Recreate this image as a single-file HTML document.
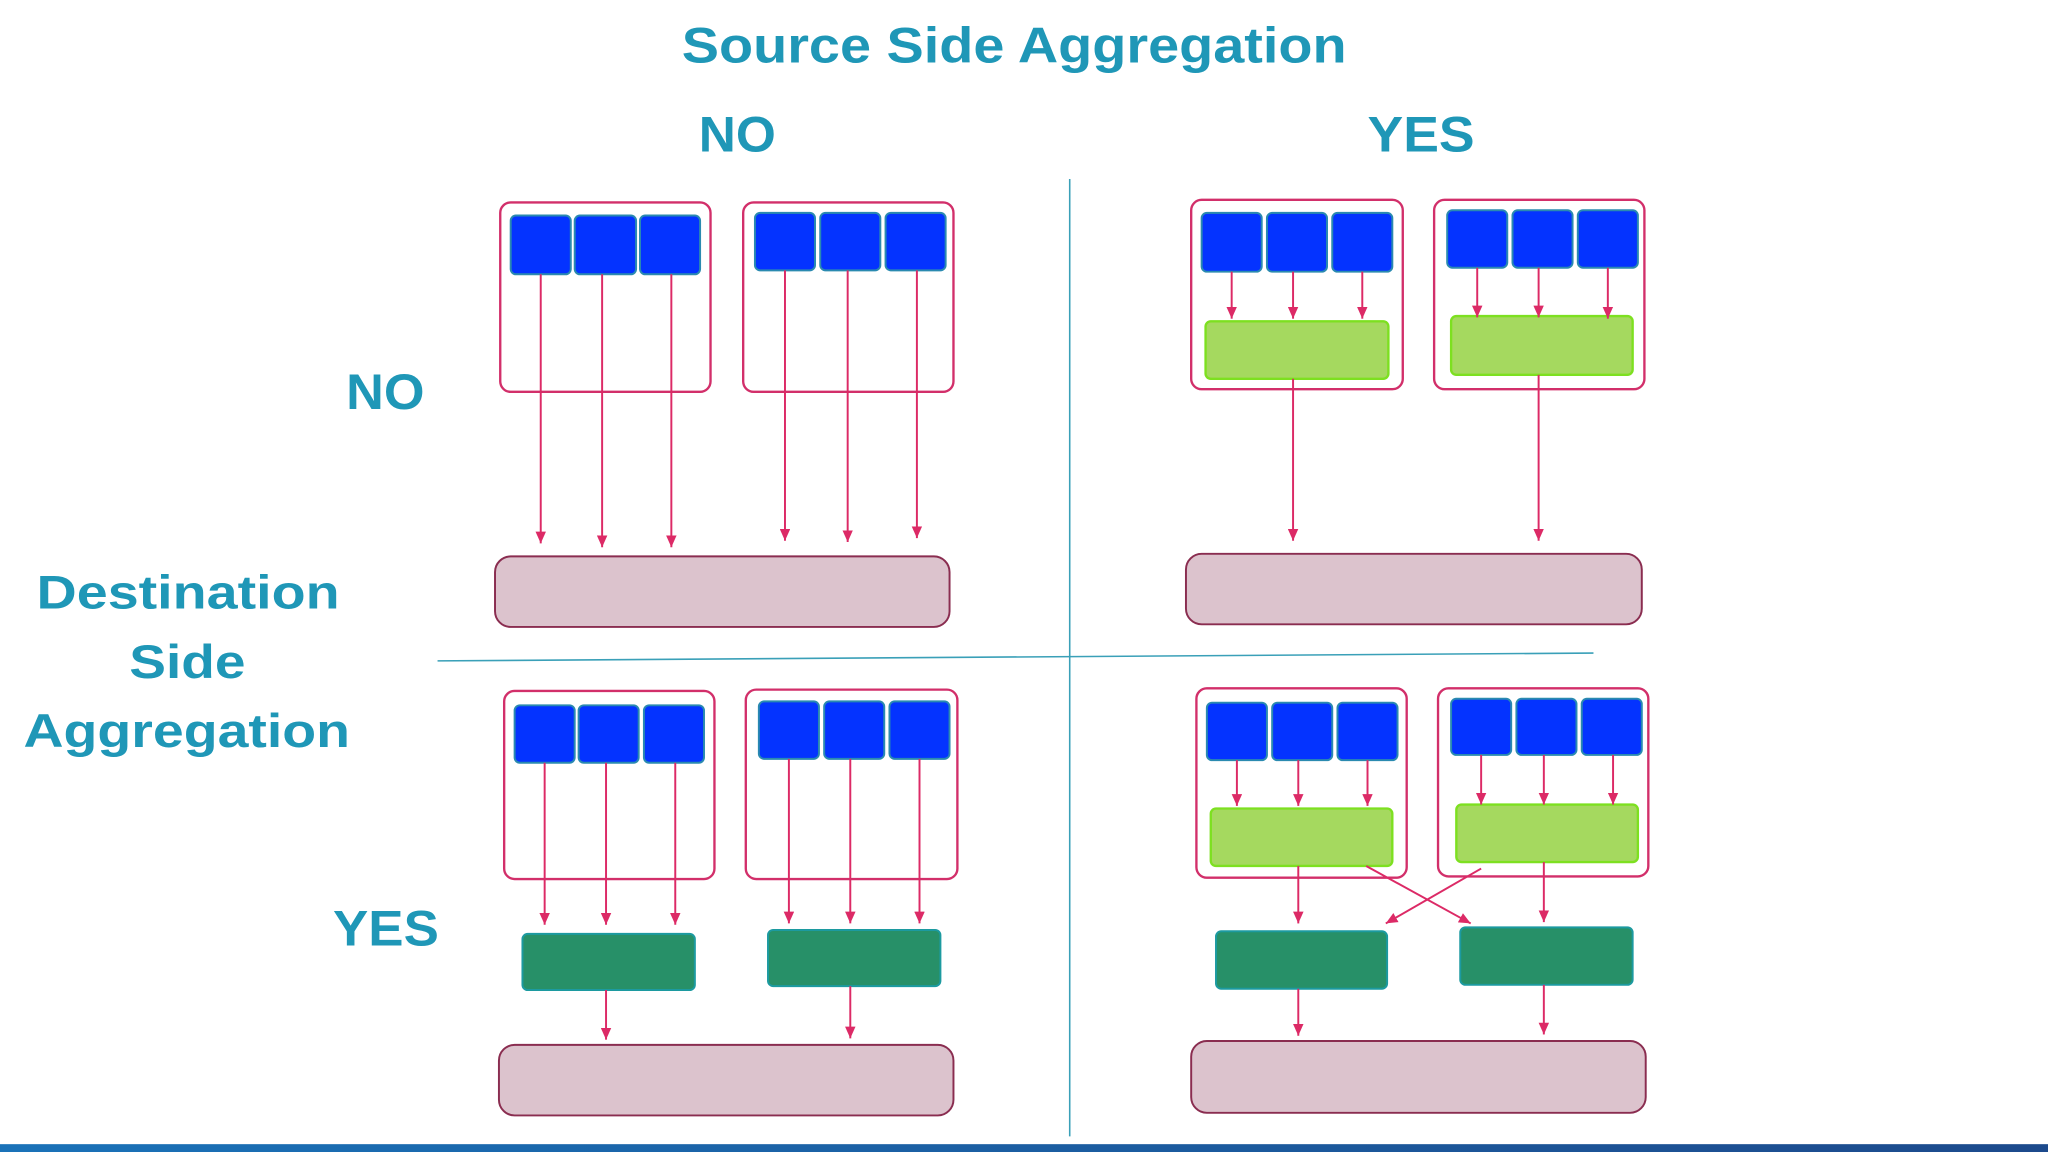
<!DOCTYPE html>
<html><head><meta charset="utf-8"><style>html,body{margin:0;padding:0;background:#fff}svg{display:block}</style></head>
<body>
<svg width="2048" height="1152" viewBox="0 0 1568 882" xmlns="http://www.w3.org/2000/svg" font-family="Liberation Sans, sans-serif" font-weight="bold">
<defs>
<marker id="a" markerWidth="9" markerHeight="8" refX="9" refY="4" orient="auto" markerUnits="userSpaceOnUse"><path d="M0,0 L9,4 L0,8 Z" fill="#dc2a66"/></marker>
<linearGradient id="g" x1="0" x2="1"><stop offset="0" stop-color="#1a72b8"/><stop offset="1" stop-color="#1c4a8c"/></linearGradient>
</defs>
<rect width="1568" height="882" fill="#fff"/>
<g fill="#1f97b7">
<text x="522" y="48" font-size="38" textLength="509" lengthAdjust="spacingAndGlyphs">Source Side Aggregation</text>
<text x="535" y="116" font-size="38" textLength="59" lengthAdjust="spacingAndGlyphs">NO</text>
<text x="1047" y="116" font-size="38" textLength="82" lengthAdjust="spacingAndGlyphs">YES</text>
<text x="265" y="313" font-size="38" textLength="60" lengthAdjust="spacingAndGlyphs">NO</text>
<text x="255" y="724" font-size="38" textLength="81" lengthAdjust="spacingAndGlyphs">YES</text>
<text x="28" y="466" font-size="36" textLength="232" lengthAdjust="spacingAndGlyphs">Destination</text>
<text x="99" y="519" font-size="36" textLength="89" lengthAdjust="spacingAndGlyphs">Side</text>
<text x="18" y="572" font-size="36" textLength="250" lengthAdjust="spacingAndGlyphs">Aggregation</text>
</g>
<line x1="819" y1="137" x2="819" y2="870" stroke="#3aa0b8" stroke-width="1.2"/>
<line x1="335" y1="506" x2="1220" y2="500" stroke="#3aa0b8" stroke-width="1.2"/>
<rect x="0" y="876" width="1568" height="6" fill="url(#g)"/>

<g fill="none" stroke="#d22f6a" stroke-width="1.8">
<rect x="383" y="155" width="161" height="145" rx="8"/>
<rect x="569" y="155" width="161" height="145" rx="8"/>
<rect x="912" y="153" width="162" height="145" rx="8"/>
<rect x="1098" y="153" width="161" height="145" rx="8"/>
<rect x="386" y="529" width="161" height="144" rx="8"/>
<rect x="571" y="528" width="162" height="145" rx="8"/>
<rect x="916" y="527" width="161" height="145" rx="8"/>
<rect x="1101" y="527" width="161" height="144" rx="8"/>
</g>

<g fill="#0433ff" stroke="#2a8ab0" stroke-width="1.5">
<rect x="391" y="165" width="46" height="45" rx="4"/><rect x="440" y="165" width="47" height="45" rx="4"/><rect x="490" y="165" width="46" height="45" rx="4"/>
<rect x="578" y="163" width="46" height="44" rx="4"/><rect x="628" y="163" width="46" height="44" rx="4"/><rect x="678" y="163" width="46" height="44" rx="4"/>
<rect x="920" y="163" width="46" height="45" rx="4"/><rect x="970" y="163" width="46" height="45" rx="4"/><rect x="1020" y="163" width="46" height="45" rx="4"/>
<rect x="1108" y="161" width="46" height="44" rx="4"/><rect x="1158" y="161" width="46" height="44" rx="4"/><rect x="1208" y="161" width="46" height="44" rx="4"/>
<rect x="394" y="540" width="46" height="44" rx="4"/><rect x="443" y="540" width="46" height="44" rx="4"/><rect x="493" y="540" width="46" height="44" rx="4"/>
<rect x="581" y="537" width="46" height="44" rx="4"/><rect x="631" y="537" width="46" height="44" rx="4"/><rect x="681" y="537" width="46" height="44" rx="4"/>
<rect x="924" y="538" width="46" height="44" rx="4"/><rect x="974" y="538" width="46" height="44" rx="4"/><rect x="1024" y="538" width="46" height="44" rx="4"/>
<rect x="1111" y="535" width="46" height="43" rx="4"/><rect x="1161" y="535" width="46" height="43" rx="4"/><rect x="1211" y="535" width="46" height="43" rx="4"/>
</g>

<g fill="#a5d95f" stroke="#7de020" stroke-width="1.8">
<rect x="923" y="246" width="140" height="44" rx="4"/>
<rect x="1111" y="242" width="139" height="45" rx="4"/>
<rect x="927" y="619" width="139" height="44" rx="4"/>
<rect x="1115" y="616" width="139" height="44" rx="4"/>
</g>

<g fill="#279068" stroke="#1c9aa0" stroke-width="1.5">
<rect x="400" y="715" width="132" height="43" rx="4"/>
<rect x="588" y="712" width="132" height="43" rx="4"/>
<rect x="931" y="713" width="131" height="44" rx="4"/>
<rect x="1118" y="710" width="132" height="44" rx="4"/>
</g>

<g fill="#dcc3cd" stroke="#8a2d50" stroke-width="1.5">
<rect x="379" y="426" width="348" height="54" rx="12"/>
<rect x="908" y="424" width="349" height="54" rx="12"/>
<rect x="382" y="800" width="348" height="54" rx="12"/>
<rect x="912" y="797" width="348" height="55" rx="12"/>
</g>

<g stroke="#dc2a66" stroke-width="1.5" marker-end="url(#a)">
<line x1="414" y1="210" x2="414" y2="416"/><line x1="461" y1="210" x2="461" y2="419"/><line x1="514" y1="210" x2="514" y2="419"/>
<line x1="601" y1="207" x2="601" y2="414"/><line x1="649" y1="207" x2="649" y2="415"/><line x1="702" y1="207" x2="702" y2="412"/>
<line x1="943" y1="208" x2="943" y2="244"/><line x1="990" y1="208" x2="990" y2="244"/><line x1="1043" y1="208" x2="1043" y2="244"/>
<line x1="1131" y1="205" x2="1131" y2="243"/><line x1="1178" y1="205" x2="1178" y2="243"/><line x1="1231" y1="205" x2="1231" y2="244"/>
<line x1="990" y1="290" x2="990" y2="414"/><line x1="1178" y1="287" x2="1178" y2="414"/>
<line x1="417" y1="584" x2="417" y2="708"/><line x1="464" y1="584" x2="464" y2="708"/><line x1="517" y1="584" x2="517" y2="708"/>
<line x1="604" y1="581" x2="604" y2="707"/><line x1="651" y1="581" x2="651" y2="707"/><line x1="704" y1="581" x2="704" y2="707"/>
<line x1="464" y1="758" x2="464" y2="796"/><line x1="651" y1="755" x2="651" y2="795"/>
<line x1="947" y1="582" x2="947" y2="617"/><line x1="994" y1="582" x2="994" y2="617"/><line x1="1047" y1="582" x2="1047" y2="617"/>
<line x1="1134" y1="578" x2="1134" y2="616"/><line x1="1182" y1="578" x2="1182" y2="616"/><line x1="1235" y1="578" x2="1235" y2="616"/>
<line x1="994" y1="663" x2="994" y2="707"/><line x1="1182" y1="660" x2="1182" y2="706"/>
<line x1="994" y1="757" x2="994" y2="793"/><line x1="1182" y1="754" x2="1182" y2="792"/>
<line x1="1046" y1="663" x2="1126" y2="707"/>
<line x1="1134" y1="665" x2="1061" y2="707"/>
</g>
</svg>
</body></html>
